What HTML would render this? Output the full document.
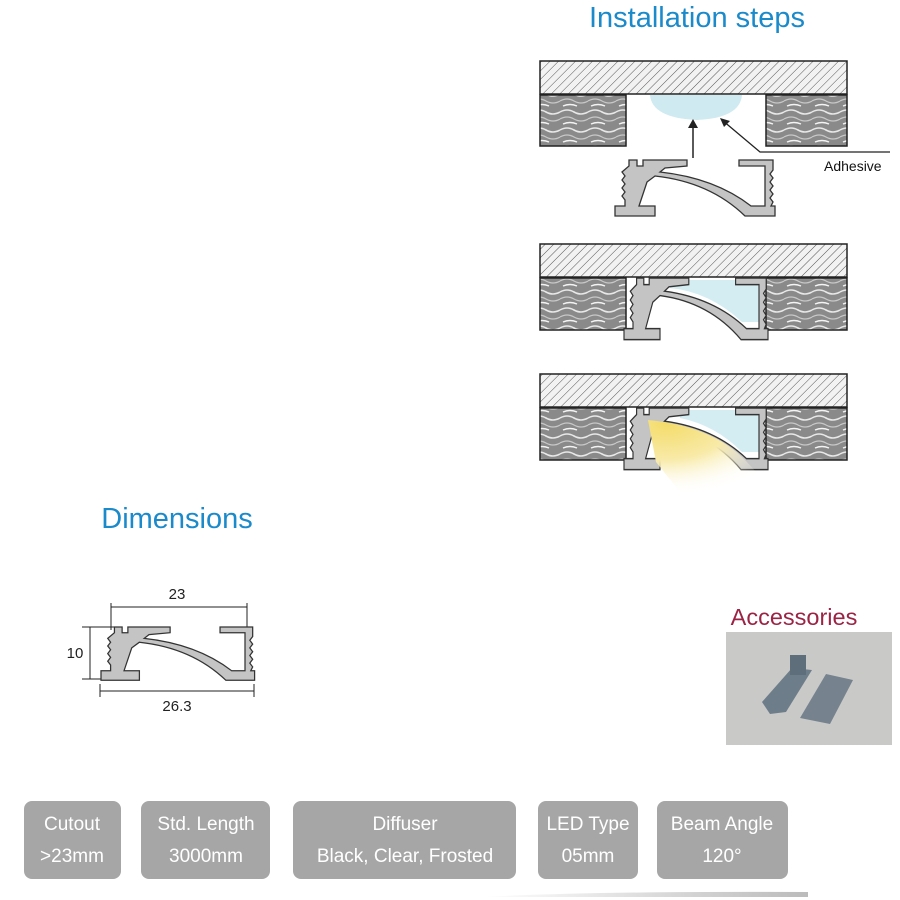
<!DOCTYPE html>
<html><head><meta charset="utf-8"><style>
body{margin:0;background:#fff;}
svg{display:block;}
.t{font-family:"Liberation Sans",sans-serif;}
.b{font-family:"Liberation Sans Narrow","Liberation Sans",sans-serif;fill:#fff;font-size:19px;text-anchor:middle;}
</style></head><body>
<svg width="900" height="900" viewBox="0 0 900 900" xmlns="http://www.w3.org/2000/svg">
<defs>
<pattern id="hatch" width="6" height="6" patternUnits="userSpaceOnUse" patternTransform="rotate(45)">
<rect width="6" height="6" fill="#f2f2f2"/><line x1="0" y1="0" x2="0" y2="6" stroke="#555" stroke-width="1"/></pattern>
<pattern id="wood" width="28" height="18" patternUnits="userSpaceOnUse">
<rect width="28" height="18" fill="#8a8a8a"/>
<path d="M0,4 Q7,0 14,4 T28,4" stroke="#e8e8e8" stroke-width="1.6" fill="none"/>
<path d="M0,11 Q7,7 14,11 T28,11" stroke="#c8c8c8" stroke-width="1.2" fill="none"/>
<path d="M3,16 Q10,13 17,16" stroke="#f4f4f4" stroke-width="1.4" fill="none"/>
</pattern>
<path id="prof" d="M14,0 L22,0 L22,6 L28,6 L28,0 L72,0 L72,6 L50,8 L45,12 Q100,18 136,46 L150,46 L150,6 L124,6 L124,0 L158,0 L158,10 L155,14 L158,18 L155,22 L158,26 L155,30 L158,34 L155,38 L158,42 L156,46 L160,46 L160,56 L130,56 Q95,22 40,16 L32,22 L24,46 L40,46 L40,56 L0,56 L0,46 L10,46 L10,40 L7,36 L10,32 L7,28 L10,24 L7,20 L10,16 L7,12 L14,6 Z" fill="#c4c4c4" stroke="#333" stroke-width="1.3"/>
<radialGradient id="beam" cx="0.15" cy="0.05" r="1">
<stop offset="0" stop-color="#f4dc6a"/><stop offset="0.5" stop-color="#f8eaa8"/><stop offset="1" stop-color="#fff" stop-opacity="0"/></radialGradient>
<linearGradient id="ln" x1="0" x2="1"><stop offset="0" stop-color="#fff"/><stop offset="1" stop-color="#bbb"/></linearGradient>
</defs>

<text class="t" x="697" y="27" font-size="29" fill="#1a8acb" text-anchor="middle">Installation steps</text>

<!-- panel 1 -->
<rect x="540" y="61" width="307" height="33" fill="url(#hatch)" stroke="#222" stroke-width="1.5"/>
<rect x="540" y="95" width="86" height="51" fill="url(#wood)" stroke="#222" stroke-width="1.5"/>
<rect x="766" y="95" width="81" height="51" fill="url(#wood)" stroke="#222" stroke-width="1.5"/>
<path d="M650,95 L742,95 Q740,118 697,120 Q652,118 650,95 Z" fill="#cfeaf0"/>
<line x1="693" y1="158" x2="693" y2="124" stroke="#222" stroke-width="1.5"/>
<path d="M688,128 L693,119 L698,128 Z" fill="#222"/>
<polyline points="722,120 760,152 890,152" fill="none" stroke="#222" stroke-width="1.3"/>
<path d="M720,118 L730,121 L724,127 Z" fill="#222"/>
<text class="t" x="824" y="171" font-size="14" fill="#111">Adhesive</text>
<use href="#prof" transform="translate(615,160)"/>

<!-- panel 2 -->
<rect x="540" y="244" width="307" height="33" fill="url(#hatch)" stroke="#222" stroke-width="1.5"/>
<rect x="540" y="278" width="86" height="52" fill="url(#wood)" stroke="#222" stroke-width="1.5"/>
<rect x="766" y="278" width="81" height="52" fill="url(#wood)" stroke="#222" stroke-width="1.5"/>
<path d="M670,280 L762,280 L762,322 L742,322 Q710,292 670,288 Z" fill="#d4edf2"/>
<use href="#prof" transform="translate(624,278) scale(0.9,1.1)"/>

<!-- panel 3 -->
<rect x="540" y="374" width="307" height="33" fill="url(#hatch)" stroke="#222" stroke-width="1.5"/>
<rect x="540" y="408" width="86" height="52" fill="url(#wood)" stroke="#222" stroke-width="1.5"/>
<rect x="766" y="408" width="81" height="52" fill="url(#wood)" stroke="#222" stroke-width="1.5"/>
<path d="M680,410 L762,410 L762,452 L742,452 Q715,425 680,418 Z" fill="#d4edf2"/>
<use href="#prof" transform="translate(624,408) scale(0.9,1.1)"/>
<path d="M648,420 Q712,426 745,460 L775,492 L680,492 L656,462 Z" fill="url(#beam)"/>

<!-- Dimensions -->
<text class="t" x="177" y="528" font-size="29" fill="#1a8acb" text-anchor="middle">Dimensions</text>
<g stroke="#222" stroke-width="1">
<line x1="111" y1="603" x2="111" y2="630"/><line x1="247" y1="603" x2="247" y2="630"/>
<line x1="111" y1="607" x2="247" y2="607"/>
<line x1="82" y1="627" x2="115" y2="627"/><line x1="82" y1="679" x2="105" y2="679"/>
<line x1="90" y1="627" x2="90" y2="679"/>
<line x1="100" y1="684" x2="100" y2="697"/><line x1="254" y1="684" x2="254" y2="697"/>
<line x1="100" y1="691" x2="254" y2="691"/>
</g>
<use href="#prof" transform="translate(101,627) scale(0.96,0.95)"/>
<text class="t" x="177" y="599" font-size="15" fill="#222" text-anchor="middle">23</text>
<text class="t" x="75" y="658" font-size="15" fill="#222" text-anchor="middle">10</text>
<text class="t" x="177" y="711" font-size="15" fill="#222" text-anchor="middle">26.3</text>

<!-- Accessories -->
<text class="t" x="794" y="625" font-size="23.5" fill="#9b2345" text-anchor="middle">Accessories</text>
<rect x="726" y="632" width="166" height="113" fill="#c9c9c7"/>
<path d="M762,702 L792,668 L812,670 L786,712 L770,714 Z" fill="#6e7d8a"/>
<rect x="790" y="655" width="16" height="20" fill="#5f6e7b"/>
<path d="M800,718 L826,674 L853,680 L830,724 Z" fill="#76838f"/>

<!-- Spec boxes -->
<rect x="24" y="801" width="97" height="78" rx="8" fill="#a6a6a6"/>
<rect x="141" y="801" width="129" height="78" rx="8" fill="#a6a6a6"/>
<rect x="293" y="801" width="223" height="78" rx="8" fill="#a6a6a6"/>
<rect x="538" y="801" width="100" height="78" rx="8" fill="#a6a6a6"/>
<rect x="657" y="801" width="131" height="78" rx="8" fill="#a6a6a6"/>
<text class="b" x="72" y="830">Cutout</text><text class="b" x="72" y="862">&gt;23mm</text>
<text class="b" x="206" y="830">Std. Length</text><text class="b" x="206" y="862">3000mm</text>
<text class="b" x="405" y="830">Diffuser</text><text class="b" x="405" y="862">Black, Clear, Frosted</text>
<text class="b" x="588" y="830">LED Type</text><text class="b" x="588" y="862">05mm</text>
<text class="b" x="722" y="830">Beam Angle</text><text class="b" x="722" y="862">120°</text>
<path d="M480,897 Q600,891 808,892 L808,897 Z" fill="url(#ln)"/>
</svg>
</body></html>
